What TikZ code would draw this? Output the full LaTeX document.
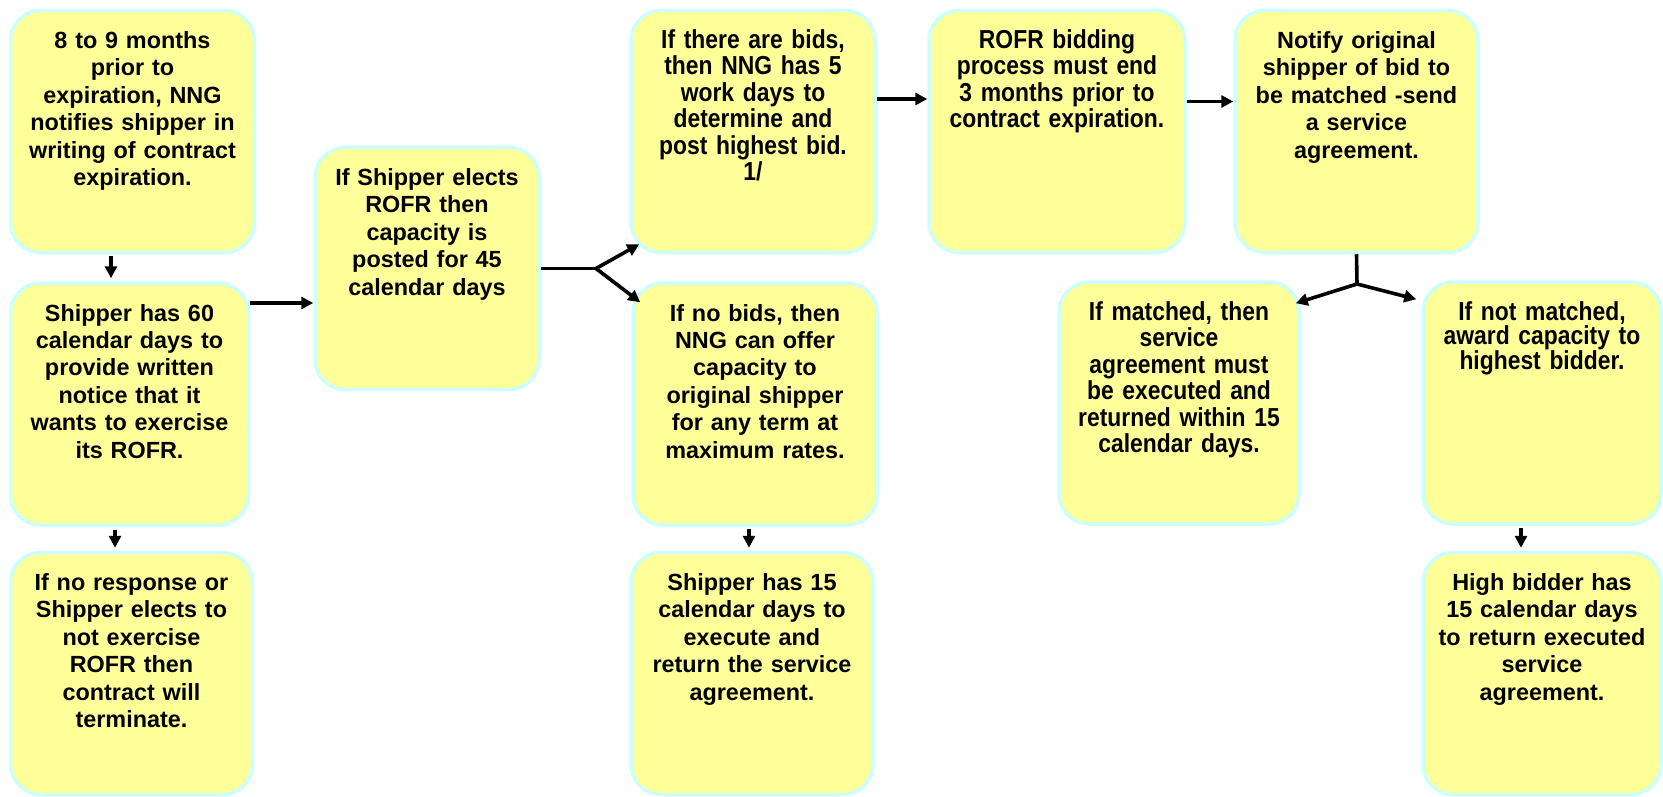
\documentclass[tikz,border=0pt]{standalone}
\usepackage{fontspec}
\setmainfont{Liberation Sans}
\newfontfamily\narrowfont{Liberation Sans}[FakeStretch=0.88]
\usetikzlibrary{arrows.meta}

\definecolor{boxfill}{RGB}{255,255,153}
\definecolor{boxline}{RGB}{204,255,255}

\begin{document}
\begin{tikzpicture}[x=1pt, y=-1pt,
    stepbox/.style={draw=boxline, line width=3.5pt, fill=boxfill, rounded corners=30pt,
        minimum width=244pt, inner sep=0pt, text width=224pt, align=center,
        text height=38pt, text depth=204pt,
        font=\bfseries\fontsize{23.4}{27.4}\selectfont},
    narrowbox/.style={stepbox, font=\narrowfont\bfseries\fontsize{26}{26.5}\selectfont},
    flow/.style={line width=3.6pt, -{Triangle[length=12pt,width=12pt]}},
    stem/.style={line width=3.6pt},
  ]

    \useasboundingbox (0,0) rectangle (1663,797);

    % First column: notice and answer of the shipper
    \node[stepbox] (notify) at (132.5,131.5)
        {8 to 9 months\\prior to\\expiration, NNG\\notifies shipper in\\writing of contract\\expiration.};
    \node[stepbox, minimum width=238pt] (respond) at (129.5,404)
        {Shipper has 60\\calendar days to\\provide written\\notice that it\\wants to exercise\\its ROFR.};
    \node[stepbox, minimum width=242pt] (terminate) at (131.5,673.5)
        {If no response or\\Shipper elects to\\not exercise\\ROFR then\\contract will\\terminate.};

    % Posting of the capacity
    \node[stepbox, minimum width=224pt] (post) at (427,268.5)
        {If Shipper elects\\ROFR then\\capacity is\\posted for 45\\calendar days};

    % Bids or no bids
    \node[narrowbox] (bids) at (753,131.5)
        {If there are bids,\\then NNG has 5\\work days to\\determine and\\post highest bid.\\1/};
    \node[stepbox] (nobids) at (755,404)
        {If no bids, then\\NNG can offer\\capacity to\\original shipper\\for any term at\\maximum rates.};
    \node[stepbox, minimum width=242pt] (execute) at (752,673.5)
        {Shipper has 15\\calendar days to\\execute and\\return the service\\agreement.};

    % End of the bidding and matching
    \node[narrowbox, minimum width=256pt] (deadline) at (1057,131.5)
        {ROFR bidding\\process must end\\3 months prior to\\contract expiration.};
    \node[stepbox, minimum width=243pt] (match) at (1356.5,131.5)
        {Notify original\\shipper of bid to\\be matched -send\\a service\\agreement.};
    \node[narrowbox, minimum width=240pt] (matched) at (1179,403)
        {If matched, then\\service\\agreement must\\be executed and\\returned within 15\\calendar days.};
    \node[narrowbox, minimum width=238pt, font=\narrowfont\bfseries\fontsize{26}{24}\selectfont] (notmatched) at (1542,403)
        {If not matched,\\award capacity to\\highest bidder.};
    \node[stepbox, minimum width=238pt] (award) at (1542,673.5)
        {High bidder has\\15 calendar days\\to return executed\\service\\agreement.};

    % Straight arrows
    \draw[flow, shorten <=2pt, shorten >=3pt] ([xshift=-21.5pt]notify.south) -- ([xshift=-18.5pt]respond.north);
    \draw[flow, shorten <=3pt, shorten >=3pt] ([xshift=-14.5pt]respond.south) -- ([xshift=-16.5pt]terminate.north);
    \draw[flow] ([yshift=101pt]respond.east) -- ([yshift=101pt]respond.east -| post.west);
    \draw[flow] ([yshift=32.5pt]bids.east) -- ([yshift=32.5pt]bids.east -| deadline.west);
    \draw[flow] ([yshift=30pt]deadline.east) -- ([yshift=30pt]deadline.east -| match.west);
    \draw[flow, shorten <=2pt, shorten >=3pt] ([xshift=-6pt]nobids.south) -- ([xshift=-3pt]execute.north);
    \draw[flow, shorten <=2pt, shorten >=3pt] ([xshift=-21pt]notmatched.south) -- ([xshift=-21pt]award.north);

    % Forks
    \coordinate (split) at (596,268.5);
    \draw[stem] (post.east) -- (split);
    \draw[flow] (split) -- ([shift={(10,-10)}]bids.south west);
    \draw[flow] (split) -- ([shift={(9,21)}]nobids.north west);

    \coordinate (choice) at (1357,284);
    \draw[stem] (match.south) -- (choice);
    \draw[flow] (choice) -- ([shift={(-5,23)}]matched.north east);
    \draw[flow] (choice) -- ([shift={(-5,19)}]notmatched.north west);

\end{tikzpicture}
\end{document}
